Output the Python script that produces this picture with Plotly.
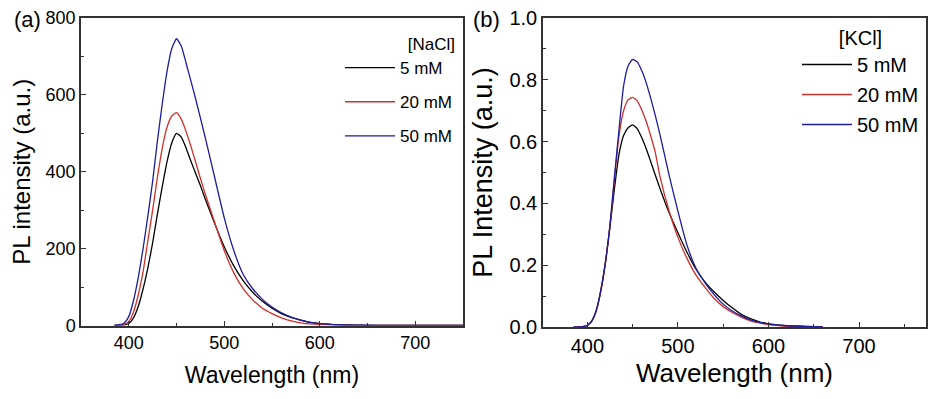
import plotly.graph_objects as go

# ---------------- data ----------------
wl_a = [385, 390, 395, 400, 405, 410, 415, 420, 425, 430, 435, 440, 445, 450, 455,
        460, 465, 470, 475, 480, 490, 500, 510, 520, 530, 540, 550, 560, 570, 580,
        590, 600, 620, 640, 660, 700, 750]
nacl_5 = [0, 0, 1, 5, 20, 50, 95, 150, 215, 290, 360, 425, 475, 500, 490,
          462, 428, 396, 364, 330, 265, 205, 155, 116, 86, 63, 45, 31, 21, 14,
          8, 5, 2, 1, 0, 0, 0]
nacl_20 = [0, 1, 3, 10, 35, 80, 140, 220, 300, 385, 460, 515, 545, 554, 537,
           505, 467, 425, 383, 343, 268, 195, 137, 95, 66, 45, 31, 20, 12, 7,
           4, 2.5, 1, 0.5, 0, 0, 0]
nacl_50 = [0, 2, 6, 23, 65, 125, 200, 285, 375, 480, 575, 660, 720, 746, 727,
           683, 637, 590, 540, 490, 385, 280, 195, 132, 95, 68, 48, 33, 22, 14,
           8, 5, 2, 1, 0.5, 0, 0]

wl_b = [385, 390, 400, 405, 410, 415, 420, 425, 430, 435, 440, 445, 450, 455,
        460, 465, 470, 475, 480, 490, 500, 510, 520, 530, 540, 550, 560, 570,
        580, 590, 600, 620, 640, 660]
kcl_5 = [0, 0, 0.005, 0.02, 0.055, 0.12, 0.21, 0.325, 0.45, 0.56, 0.62, 0.645, 0.654, 0.642,
         0.613, 0.577, 0.535, 0.492, 0.45, 0.372, 0.305, 0.242, 0.187, 0.145, 0.113, 0.086, 0.062, 0.041,
         0.027, 0.017, 0.01, 0.004, 0.002, 0]
kcl_20 = [0, 0, 0.005, 0.02, 0.055, 0.12, 0.21, 0.33, 0.48, 0.62, 0.70, 0.735, 0.743, 0.732,
          0.703, 0.665, 0.618, 0.565, 0.49, 0.378, 0.29, 0.222, 0.168, 0.128, 0.092, 0.066, 0.047, 0.032,
          0.02, 0.013, 0.008, 0.003, 0.001, 0]
kcl_50 = [0, 0, 0.005, 0.02, 0.055, 0.12, 0.21, 0.33, 0.49, 0.64, 0.78, 0.845, 0.866, 0.858,
          0.83, 0.79, 0.74, 0.685, 0.625, 0.495, 0.375, 0.265, 0.19, 0.143, 0.105, 0.074, 0.052, 0.036,
          0.023, 0.015, 0.01, 0.004, 0.002, 0]

series_names = ["5 mM", "20 mM", "50 mM"]
colors = ["#000000", "#d0302c", "#1c1c9c"]

a_ticks = [0, 200, 400, 600, 800]
b_ticks = [0.0, 0.2, 0.4, 0.6, 0.8, 1.0]
b_ticklabels = ["0.0", "0.2", "0.4", "0.6", "0.8", "1.0"]
x_ticks = [400, 500, 600, 700]

FONT = "Arial, Liberation Sans, sans-serif"
W, H = 941, 399

fig = go.Figure()

for name, ys, c in zip(series_names, [nacl_5, nacl_20, nacl_50], colors):
    fig.add_trace(go.Scatter(x=wl_a, y=ys, mode="lines", name=name,
                             line=dict(color=c, width=1.3, shape="spline", smoothing=0.5),
                             xaxis="x", yaxis="y", legend="legend",
                             legendgroup="a" + name))
for name, ys, c in zip(series_names, [kcl_5, kcl_20, kcl_50], colors):
    fig.add_trace(go.Scatter(x=wl_b, y=ys, mode="lines", name=name,
                             line=dict(color=c, width=1.3, shape="spline", smoothing=0.5),
                             xaxis="x2", yaxis="y2", legend="legend2",
                             legendgroup="b" + name))

def px_x(p):
    return p / W

def px_y(p):
    return 1 - p / H

axis_common = dict(showline=True, linecolor="#333333", linewidth=1.5, mirror=True,
                   ticks="inside", ticklen=5, tickwidth=1.2, tickcolor="#333333",
                   showgrid=False, zeroline=False, color="#000000", automargin=False)

fig.update_layout(
    template="none",
    width=W, height=H,
    margin=dict(l=0, r=0, t=0, b=0),
    paper_bgcolor="white", plot_bgcolor="white",
    font=dict(family=FONT, color="#000000"),
    xaxis=dict(domain=[px_x(81), px_x(463)], range=[350, 750], anchor="y",
               tickvals=x_ticks, tickfont=dict(size=18),
               minor=dict(dtick=50, tick0=0, ticks="inside", ticklen=3, tickcolor="#333333"),
               title=dict(text="Wavelength (nm)", font=dict(size=23), standoff=15),
               **axis_common),
    yaxis=dict(domain=[px_y(325.5), px_y(18)], range=[0, 800], anchor="x",
               tickvals=a_ticks, tickfont=dict(size=18),
               minor=dict(dtick=100, tick0=0, ticks="inside", ticklen=3, tickcolor="#333333"),
               title=dict(text="PL intensity (a.u.)", font=dict(size=24), standoff=8),
               **axis_common),
    xaxis2=dict(domain=[px_x(543), px_x(926)], range=[351, 774], anchor="y2",
                tickvals=x_ticks, tickfont=dict(size=20),
                minor=dict(dtick=50, tick0=0, ticks="inside", ticklen=3, tickcolor="#333333"),
                title=dict(text="Wavelength (nm)", font=dict(size=26), standoff=8),
                **axis_common),
    yaxis2=dict(domain=[px_y(327), px_y(18)], range=[0, 1.0], anchor="x2",
                tickvals=b_ticks, ticktext=b_ticklabels, tickfont=dict(size=20),
                minor=dict(dtick=0.1, tick0=0, ticks="inside", ticklen=3, tickcolor="#333333"),
                title=dict(text="PL Intensity (a.u.)", font=dict(size=27), standoff=9),
                **axis_common),
    legend=dict(x=px_x(340), y=px_y(28), xanchor="left", yanchor="top",
                bgcolor="rgba(0,0,0,0)", font=dict(size=17), tracegroupgap=9,
                itemwidth=50,
                title=dict(text="[NaCl]", side="top right", font=dict(size=17))),
    legend2=dict(x=px_x(797), y=px_y(19), xanchor="left", yanchor="top",
                 bgcolor="rgba(0,0,0,0)", font=dict(size=20), tracegroupgap=1,
                 itemwidth=50,
                 title=dict(text="[KCl]", side="top center", font=dict(size=20))),
    annotations=[
        dict(text="(a)", x=px_x(12), y=px_y(19), xref="paper", yref="paper",
             xanchor="left", yanchor="middle", showarrow=False, font=dict(size=22)),
        dict(text="(b)", x=px_x(471), y=px_y(19), xref="paper", yref="paper",
             xanchor="left", yanchor="middle", showarrow=False, font=dict(size=22)),
    ],
)

fig.write_html("out.html", config={"displayModeBar": False},
               post_script="document.body.style.margin='0px';")
